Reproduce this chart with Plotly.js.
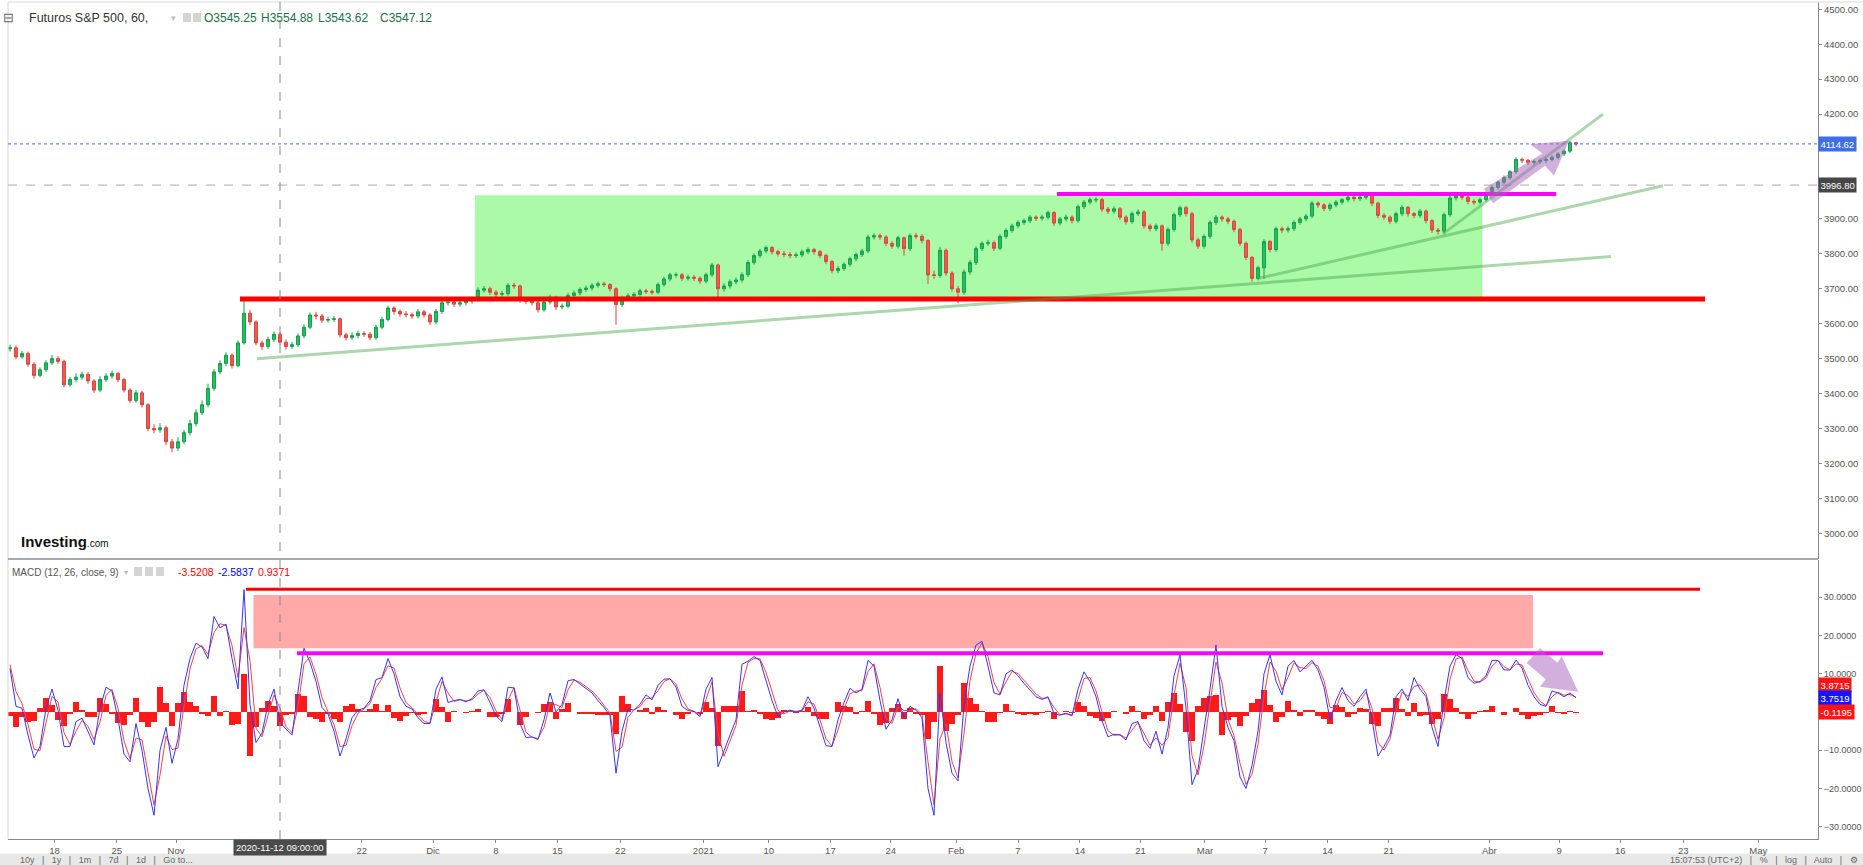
<!DOCTYPE html>
<html><head><meta charset="utf-8">
<script src="https://cdn.plot.ly/plotly-3.0.1.min.js"></script>
<style>html,body{margin:0;padding:0;background:#fff;}#chart{width:1863px;height:865px;}</style>
</head><body><div id="chart"></div>
<script>
// ---------- DATA (one sample ~ every 11 hourly bars) ----------
const priceOpen = [
3528,3531,3505,3515,3484,3452,3468,3488,3500,3492,
3425,3440,3447,3455,3436,3410,3440,3450,3458,3440,
3410,3380,3402,3368,3300,3296,3302,3262,3244,3262,
3288,3314,3345,3368,3415,3462,3486,3510,3480,3545,
3630,3605,3545,3535,3555,3570,3547,3535,3540,3565,
3590,3625,3622,3610,3612,3614,3568,3560,3566,3572,
3570,3560,3590,3612,3645,3635,3628,3626,3622,3634,
3625,3605,3635,3660,3662,3656,3660,3665,3670,3696,
3700,3690,3684,3686,3710,3708,3668,3664,3660,3640,
3662,3676,3648,3650,3681,3688,3698,3702,3710,3714,
3712,3700,3655,3675,3680,3684,3694,3692,3690,3712,
3728,3740,3740,3730,3733,3730,3722,3740,3768,3700,
3708,3720,3725,3740,3775,3795,3808,3818,3806,3800,
3798,3795,3797,3806,3812,3806,3795,3778,3752,3758,
3770,3786,3798,3808,3848,3852,3848,3830,3822,3846,
3815,3852,3850,3838,3740,3738,3810,3745,3700,3690,
3748,3775,3815,3830,3832,3816,3850,3867,3880,3890,
3895,3905,3902,3905,3918,3888,3900,3905,3895,3935,
3948,3955,3955,3928,3922,3929,3905,3892,3915,3920,
3880,3872,3880,3830,3870,3912,3932,3915,3840,3822,
3850,3890,3905,3900,3893,3870,3830,3790,3730,3760,
3835,3812,3872,3868,3872,3890,3900,3908,3945,3940,
3930,3940,3948,3955,3962,3958,3962,3967,3945,3910,
3905,3893,3915,3933,3915,3910,3922,3895,3868,3865,
3912,3960,3965,3962,3950,3948,3955,3972,3990,4005,
4018,4035,4070,4068,4062,4064,4067,4070,4076,4086,
4094,4118];
const priceHigh = [
3540,3538,3522,3520,3490,3475,3495,3510,3508,3497,
3448,3458,3463,3462,3441,3450,3458,3466,3462,3445,
3415,3410,3408,3372,3312,3315,3308,3270,3275,3296,
3325,3355,3380,3428,3470,3495,3518,3515,3552,3667,
3640,3610,3552,3563,3578,3576,3555,3548,3572,3598,
3632,3634,3628,3620,3622,3618,3574,3575,3580,3578,
3576,3597,3620,3652,3650,3641,3636,3632,3642,3640,
3630,3642,3666,3670,3668,3667,3672,3678,3704,3708,
3706,3696,3694,3716,3717,3712,3675,3670,3666,3668,
3683,3680,3658,3687,3695,3704,3709,3716,3721,3720,
3716,3704,3680,3687,3690,3700,3700,3698,3718,3734,
3746,3747,3745,3740,3739,3736,3746,3774,3772,3716,
3727,3732,3747,3782,3801,3814,3824,3822,3812,3808,
3805,3804,3812,3818,3817,3811,3800,3782,3765,3776,
3792,3804,3815,3855,3859,3858,3853,3836,3852,3850,
3858,3860,3856,3842,3752,3820,3815,3750,3708,3755,
3782,3822,3836,3840,3838,3856,3873,3886,3896,3901,
3911,3910,3912,3924,3922,3906,3912,3910,3941,3954,
3961,3962,3960,3934,3936,3934,3910,3921,3927,3925,
3886,3887,3884,3876,3918,3938,3937,3920,3846,3856,
3896,3911,3910,3906,3898,3874,3835,3794,3766,3842,
3840,3878,3878,3879,3896,3906,3914,3951,3950,3945,
3946,3954,3960,3968,3967,3968,3975,3972,3949,3916,
3910,3921,3939,3937,3920,3928,3927,3899,3874,3918,
3966,3972,3970,3966,3956,3961,3978,3995,4010,4024,
4040,4076,4075,4072,4070,4073,4076,4082,4091,4099,
4123,4121];
const priceLow = [
3520,3498,3500,3477,3442,3446,3462,3482,3485,3418,
3420,3432,3440,3428,3402,3404,3433,3443,3432,3403,
3372,3374,3360,3292,3286,3288,3252,3232,3236,3255,
3280,3306,3338,3360,3408,3455,3478,3472,3475,3540,
3596,3538,3525,3528,3548,3540,3526,3528,3534,3558,
3584,3612,3602,3603,3605,3560,3552,3554,3558,3562,
3552,3554,3584,3606,3626,3620,3618,3614,3615,3617,
3596,3598,3628,3652,3648,3649,3652,3657,3664,3689,
3682,3676,3677,3680,3700,3660,3656,3652,3632,3634,
3655,3640,3641,3644,3674,3681,3691,3695,3703,3705,
3692,3597,3648,3668,3673,3677,3685,3683,3684,3706,
3721,3732,3722,3723,3722,3714,3716,3734,3665,3692,
3701,3713,3718,3734,3769,3788,3801,3798,3792,3790,
3787,3788,3790,3799,3798,3787,3770,3744,3745,3751,
3763,3779,3791,3802,3841,3840,3822,3814,3815,3795,
3808,3842,3830,3714,3728,3731,3737,3692,3658,3683,
3740,3768,3808,3823,3808,3810,3843,3860,3873,3883,
3888,3894,3895,3898,3880,3881,3893,3887,3889,3928,
3941,3947,3920,3914,3915,3897,3884,3886,3908,3872,
3864,3865,3809,3823,3863,3905,3907,3832,3814,3815,
3843,3883,3892,3885,3862,3822,3782,3720,3724,3728,
3804,3806,3860,3861,3865,3883,3893,3902,3932,3922,
3923,3933,3941,3948,3950,3951,3955,3937,3902,3897,
3885,3887,3908,3907,3902,3903,3887,3860,3855,3858,
3906,3953,3955,3942,3940,3942,3949,3966,3984,3999,
4012,4030,4060,4054,4055,4057,4060,4064,4070,4080,
4089,4108];
const priceClose = [
3531,3505,3515,3484,3452,3468,3488,3500,3492,3425,
3440,3447,3455,3436,3410,3440,3450,3458,3440,3410,
3380,3402,3368,3300,3296,3302,3262,3244,3262,3288,
3314,3345,3368,3415,3462,3486,3510,3480,3545,3630,
3605,3545,3535,3555,3570,3547,3535,3540,3565,3590,
3625,3622,3610,3612,3614,3568,3560,3566,3572,3570,
3560,3590,3612,3645,3635,3628,3626,3622,3634,3625,
3605,3635,3660,3662,3656,3660,3665,3670,3696,3700,
3690,3684,3686,3710,3708,3668,3664,3660,3640,3662,
3676,3648,3650,3681,3688,3698,3702,3710,3714,3712,
3700,3655,3675,3680,3684,3694,3692,3690,3712,3728,
3740,3740,3730,3733,3730,3722,3740,3768,3700,3708,
3720,3725,3740,3775,3795,3808,3818,3806,3800,3798,
3795,3797,3806,3812,3806,3795,3778,3752,3758,3770,
3786,3798,3808,3848,3852,3848,3830,3822,3846,3815,
3852,3850,3838,3740,3738,3810,3745,3700,3690,3748,
3775,3815,3830,3832,3816,3850,3867,3880,3890,3895,
3905,3902,3905,3918,3888,3900,3905,3895,3935,3948,
3955,3955,3928,3922,3929,3905,3892,3915,3920,3880,
3872,3880,3830,3870,3912,3932,3915,3840,3822,3850,
3890,3905,3900,3893,3870,3830,3790,3730,3760,3835,
3812,3872,3868,3872,3890,3900,3908,3945,3940,3930,
3940,3948,3955,3962,3958,3962,3967,3945,3910,3905,
3893,3915,3933,3915,3910,3922,3895,3868,3865,3912,
3960,3965,3962,3950,3948,3955,3972,3990,4005,4018,
4035,4070,4068,4062,4064,4067,4070,4076,4086,4094,
4118,4114.62];

const macdLine = [
11.4,1.5,1.0,-6,-12,-9,1,6,0.5,-9,
-9,-2.5,-1.6,-5,-8.6,1,6.5,5.5,-1.8,-11,
-13,-3,-10,-20,-27,-10,-4,-13.4,-7,7,
14,18,17,14,25,22,23,14,6,32,
2,-8,-5.5,2,6,-2.5837,-4.5,-6,6,16.7,
13,8,1.2,-0.5,-5,-11.5,-7,-1.5,0.5,1,
3,8.5,9,14,10,4,1.5,0.8,-1.5,-3,
-3,6,9.2,2.5,3,3.3,2.7,3.5,5.5,5.8,
2.5,-1,-2.5,6.5,6.3,-3,-6.7,-6.5,-7.2,-2,
5,0,2,8.2,8.5,7.4,6.3,5,3,1.2,
-1,-16,-5,0.8,0.5,2,4.5,3.2,7,8.6,
8.7,6.5,1.5,0.4,0.1,-1.2,6,9,-14.3,-10,
-6,-2,12.5,13.3,14.5,13.5,8.5,3,-1.2,0,
0.5,0,0.5,4,1,-4,-8.8,-9,-2,2.5,
6.2,5,6,13.5,12,3,-4.5,-2,3.5,-1.5,
1.5,0.5,-1.5,-20,-27,5,-8,-16,-18,2,
12,17.5,18.5,12,5,4.5,10,11,9.5,7.5,
5.8,4,3.3,4,-0.5,-0.8,-0.3,-1,6,10.5,
8,4,-2.3,-6.5,-5.8,-6,-7.3,-3,-2.5,-7.5,
-9.5,-5,-11,-4,9.5,14.9,1,-19,-15,-5,
6,17.5,1.5,-4,-7.5,-17,-20,-14,-5,10,
15,8,4.5,12,13.5,10.5,12,13.5,11,6.5,
-2,3,6.4,3,1.5,4,6,-2,-11.5,-9,
-6,4,6,3,9,6,4,-4,-9,3,
12,15,14,9,7.5,8,9.5,13.5,13.5,11,
11,13.6,11.5,7,4,2,1.5,5.5,5,4,
5,3.7519];
const signalLine = [
12.4,5.3,2.2,-3.3,-9.7,-10.1,-2.8,4.1,2.6,-5.4,
-8.5,-5,-2.2,-3.7,-7.2,-2.6,4.4,5.9,1,-7.5,
-12.2,-6.8,-7.3,-16.2,-24.3,-16.5,-6.3,-9.8,-9.4,1.7,
11.3,16.5,17.4,15.1,20.8,23.1,22.6,17.4,9,22.1,
13.4,-4.2,-6.5,-0.9,4.5,0.9371,-3.8,-5.4,1.4,12.6,
14.4,9.9,3.8,0.1,-3.3,-9,-8.7,-3.6,-0.3,0.8,
2.2,6.4,8.8,12.1,11.5,6.3,2.5,1.1,-0.6,-2.4,
-2.9,2.6,8,5,2.8,3.2,2.9,3.2,4.7,5.7,
3.8,0.3,-1.9,3.1,6.4,0.5,-5.3,-6.6,-6.9,-4,
2.3,1.9,1.2,5.8,8.4,7.8,6.7,5.5,3.8,1.9,
-0.2,-10.3,-9.2,-1.4,0.6,1.4,3.5,3.7,5.6,8,
8.7,7.3,3.4,0.8,0.2,-0.7,3.3,7.9,-5.4,-11.6,
-7.5,-3.5,7,13,14,13.9,10.4,5.1,0.4,-0.5,
0.3,0.2,0.3,2.7,2.1,-2.1,-7,-8.9,-4.7,0.8,
4.8,5.5,5.6,10.6,12.6,6.4,-1.6,-3,1.4,0.4,
0.4,0.9,-0.7,-13,-24.3,-7,-3.1,-13,-17.2,-5.6,
8.2,15.4,18.1,14.5,7.7,4.7,7.9,10.6,10.1,8.3,
6.4,4.7,3.6,3.7,1.2,-0.7,-0.5,-0.7,3.3,8.8,
9,5.5,0.1,-4.9,-6.1,-5.9,-6.8,-4.6,-2.7,-5.6,
-8.7,-6.7,-8.7,-6.7,4.4,12.8,6.3,-11.4,-16.5,-8.8,
1.8,13.1,7.6,-1.9,-6.2,-13.4,-18.9,-16.3,-8.4,4.3,
13.1,10.7,5.8,9.1,12.9,11.6,11.4,12.9,12,8.2,
1.2,1.1,5.1,4.3,2.1,3,5.2,1,-7.9,-10,
-7.1,0.2,5.2,4.1,6.7,7.1,4.8,-1,-7.1,-1.6,
8.6,13.9,14.4,10.9,8.1,7.8,8.9,12,13.5,11.9,
11,12.6,12.3,8.7,5.1,2.8,1.7,4,5.2,4.4,
4.6,3.8715];
const histogram = [
-1.0,-3.8,-1.2,-2.7,-2.3,1.1,3.8,1.9,-2.1,-3.6,
-0.5,2.5,0.6,-1.3,-1.4,3.6,2.1,-0.4,-2.8,-3.5,
-0.8,3.8,-2.7,-3.8,-2.7,6.5,2.3,-3.6,2.4,5.3,
2.7,1.5,-0.4,-1.1,4.2,-1.1,0.4,-3.4,-3,9.9,
-11.4,-3.8,1,2.9,1.5,-3.5208,-0.7,-0.6,4.6,4.1,
-1.4,-1.9,-2.6,-0.6,-1.7,-2.5,1.7,2.1,0.8,0.2,
0.8,2.1,0.2,1.9,-1.5,-2.3,-1,-0.3,-0.9,-0.6,
-0.1,3.4,1.2,-2.5,0.2,0.1,-0.2,0.3,0.8,0.1,
-1.3,-1.3,-0.6,3.4,-0.1,-3.5,-1.4,0.1,-0.3,2,
2.7,-1.9,0.8,2.4,0.1,-0.4,-0.4,-0.5,-0.8,-0.7,
-0.8,-5.7,4.2,2.2,-0.1,0.6,1,-0.5,1.4,0.6,
0,-0.8,-1.9,-0.4,-0.1,-0.5,2.7,1.1,-8.9,1.6,
1.5,1.5,5.5,0.3,0.5,-0.4,-1.9,-2.1,-1.6,0.5,
0.2,-0.2,0.2,1.3,-1.1,-1.9,-1.8,-0.1,2.7,1.7,
1.4,-0.5,0.4,2.9,-0.6,-3.4,-2.9,1,2.1,-1.9,
1.1,-0.4,-0.8,-7,-2.7,12,-4.9,-3,-0.8,7.6,
3.8,2.1,0.4,-2.5,-2.7,-0.2,2.1,0.4,-0.6,-0.8,
-0.6,-0.7,-0.3,0.3,-1.7,-0.1,0.2,-0.3,2.7,1.7,
-1,-1.5,-2.4,-1.6,0.3,-0.1,-0.5,1.6,0.2,-1.9,
-0.8,1.7,-2.3,2.7,5.1,2.1,-5.3,-7.6,1.5,3.8,
4.2,4.4,-6.1,-2.1,-1.3,-3.6,-1.1,2.3,3.4,5.7,
1.9,-2.7,-1.3,2.9,0.6,-1.1,0.6,0.6,-1,-1.7,
-3.2,1.9,1.3,-1.3,-0.6,1,0.8,-3,-3.6,1,
1.1,3.8,0.8,-1.1,2.3,-1.1,-0.8,-3,-1.9,4.6,
3.4,1.1,-0.4,-1.9,-0.6,0.2,0.6,1.5,0,-0.9,
0,1,-0.8,-1.7,-1.1,-0.8,-0.2,1.5,-0.2,-0.4,
0.4,-0.1195];

// x-axis tick labels, placed at bar positions
const xTickPos = [7.43,17.8,27.67,58.63,70.5,80.97,91.25,101.73,115.57,126.45,136.73,146.8,157.7,168,178.33,188.43,199.15,209.17,219.58,229.8,246.55,258.17,268.37,278.88,291.38];
const xTickText = ['18','25','Nov','22','Dic','8','15','22','2021','10','17','24','Feb','7','14','21','Mar','7','14','21','Abr','9','16','23','May'];
const priceTicks = [3000,3100,3200,3300,3400,3500,3600,3700,3800,3900,4200,4300,4400,4500];
const macdTicks = [-30,-20,-10,10,20,30];

// drawn annotations (bar position, value)
const lastPrice = 4114.62, markPrice = 3996.80;
const crosshairBar = 45, crosshairLabel = '2020-11-12 09:00:00';
const supportLevel = 3671, supportSpan = [38.33, 282.5];
const resistLevel = 3971, resistSpan = [174.5, 257.7];
const rangeBox = [77.5, 245.4, 3674, 3968];
const trendLines = [[41.17,3500,266.83,3792],[208.17,3730,275.5,3995],[238.83,3857,265.5,4200]];
const upArrowX = [245.67,255.42,253.33,259.83,257.33,255.83,247.17];
const upArrowP = [3986,4087,4114,4124,4024,4052,3945];
const macdTopLevel = 32.1, macdTopSpan = [39.33, 281.67];
const macdBox = [40.58, 253.83, 16.7, 30.6];
const macdResist = 15.4, macdResistSpan = [47.83, 265.5];
const downArrowX = [255,257.9,258.62,261.38,255,255.93,252.78];
const downArrowV = [16.7,12.9,14.5,5.3,6.6,8.6,12.8];
const ohlcHeader = ['O3545.25','H3554.88','L3543.62','C3547.12'];
const macdHeader = ['-3.5208','-2.5837','0.9371'];
const macdBadges = [['3.8715',7.06,'#ff1414'],['3.7519',3.75,'#1414ff'],['-0.1195',-0.12,'#ff1414']];

// ---------- LAYOUT ----------
const W = 1863, H = 865, ML = 8, MR = 45, MT = 0, MB = 26;
const PW = W - ML - MR, PH = H - MT - MB;
const px = X => (X - ML) / PW;
const py = Y => (PH - Y) / PH;
const UI = '"Liberation Sans", Arial, sans-serif';
const idx = priceClose.map((_, i) => i);

const traces = [
  {type:'candlestick', x:idx, open:priceOpen, high:priceHigh, low:priceLow, close:priceClose,
   xaxis:'x', yaxis:'y', hoverinfo:'skip', whiskerwidth:0,
   increasing:{line:{color:'#17a04c', width:1}, fillcolor:'#22c25e'},
   decreasing:{line:{color:'#d9463e', width:1}, fillcolor:'#ee5b52'}},
  {type:'bar', x:idx, y:histogram, xaxis:'x', yaxis:'y2', width:1,
   marker:{color:'#ff1a1a', line:{width:0}}, hoverinfo:'skip'},
  {type:'scatter', mode:'lines', x:idx, y:signalLine, xaxis:'x', yaxis:'y2',
   line:{color:'#ff4040', width:1}, hoverinfo:'skip'},
  {type:'scatter', mode:'lines', x:idx, y:macdLine, xaxis:'x', yaxis:'y2',
   line:{color:'#3535ff', width:1}, hoverinfo:'skip'}
];

const shapes = [];
// bottom toolbar strip (under the axis labels)
shapes.push({type:'rect', xref:'paper', yref:'paper', x0:px(0), x1:px(1863), y0:py(853.5), y1:py(866), fillcolor:'#e8e8e8', line:{width:0}, layer:'below'});
// panel frame
shapes.push({type:'line', xref:'paper', yref:'paper', x0:0, x1:1.0249, y0:py(2), y1:py(2), line:{color:'#d8d8d8', width:1}});
shapes.push({type:'line', xref:'paper', yref:'paper', x0:0, x1:0, y0:0, y1:py(2), line:{color:'#d8d8d8', width:1}});
shapes.push({type:'line', xref:'paper', yref:'paper', x0:0, x1:1, y0:py(559), y1:py(559), line:{color:'#555', width:1}});
// range box
shapes.push({type:'rect', xref:'x', yref:'y', x0:rangeBox[0], x1:rangeBox[1], y0:rangeBox[2], y1:rangeBox[3],
  fillcolor:'#abfaa7', line:{width:0}, layer:'below'});
// MACD pink box
shapes.push({type:'rect', xref:'x', yref:'y2', x0:macdBox[0], x1:macdBox[1], y0:macdBox[2], y1:macdBox[3],
  fillcolor:'#ffa9a9', line:{width:0}, layer:'below'});
// dashed reference lines
shapes.push({type:'line', xref:'paper', yref:'y', x0:0, x1:1, y0:markPrice, y1:markPrice, line:{color:'#aaaaaa', width:1, dash:'dash'}});
shapes.push({type:'line', xref:'paper', yref:'y', x0:0, x1:1, y0:lastPrice, y1:lastPrice, line:{color:'#4a6fe0', width:1, dash:'dot'}});
// support / resistance
shapes.push({type:'line', xref:'x', yref:'y', x0:supportSpan[0], x1:supportSpan[1], y0:supportLevel, y1:supportLevel, line:{color:'#ff0000', width:5}});
shapes.push({type:'line', xref:'x', yref:'y', x0:resistSpan[0], x1:resistSpan[1], y0:resistLevel, y1:resistLevel, line:{color:'#ff00ff', width:4}});
// trend lines
trendLines.forEach(t => shapes.push({type:'line', xref:'x', yref:'y', x0:t[0], y0:t[1], x1:t[2], y1:t[3],
  line:{color:'rgba(70,165,70,0.45)', width:3}}));
// arrows
const pathOf = (xs, ys) => 'M ' + xs.map((x, i) => x + ',' + ys[i]).join(' L ') + ' Z';
shapes.push({type:'path', xref:'x', yref:'y', path:pathOf(upArrowX, upArrowP), fillcolor:'rgba(165,95,185,0.5)', line:{width:0}});
// MACD lines
shapes.push({type:'line', xref:'x', yref:'y2', x0:macdTopSpan[0], x1:macdTopSpan[1], y0:macdTopLevel, y1:macdTopLevel, line:{color:'#ff0000', width:3}});
shapes.push({type:'line', xref:'x', yref:'y2', x0:macdResistSpan[0], x1:macdResistSpan[1], y0:macdResist, y1:macdResist, line:{color:'#ff00ff', width:4}});
shapes.push({type:'path', xref:'x', yref:'y2', path:pathOf(downArrowX, downArrowV), fillcolor:'rgba(165,95,185,0.5)', line:{width:0}});
// crosshair
shapes.push({type:'line', xref:'x', yref:'paper', x0:crosshairBar, x1:crosshairBar, y0:0, y1:1, line:{color:'#888', width:1, dash:'dash'}});
// small header icons
[[183,191,13,22],[193,201,13,22],[134,142,567,576],[145,153,567,576],[156,164,567,576]].forEach(r =>
  shapes.push({type:'rect', xref:'paper', yref:'paper', x0:px(r[0]), x1:px(r[1]), y0:py(r[3]), y1:py(r[2]), fillcolor:'#d4d4d4', line:{width:0}}));

const ann = [];
const T = (text, X, Y, font, extra) => ann.push(Object.assign({xref:'paper', yref:'paper', x:px(X), y:py(Y), text:text,
  showarrow:false, xanchor:'left', yanchor:'middle', font:font}, extra || {}));
// header
T('⊟', 1, 18, {family:UI, size:13, color:'#666'});
T('Futuros S&P 500, 60,', 27, 18, {family:UI, size:12.5, color:'#333'});
T('▾', 169, 18, {family:UI, size:9, color:'#bbb'});
const ohlcX = [202, 259, 316, 378];
ohlcHeader.forEach((t, i) => T(t, ohlcX[i], 18, {family:UI, size:12, color:'#23704a'}));
// MACD header
T('MACD (12, 26, close, 9)', 10, 572, {family:UI, size:10, color:'#555'});
T('▾', 122, 572, {family:UI, size:8, color:'#bbb'});
const mhX = [176, 216, 256], mhC = ['#ff0000', '#0000ff', '#ff0000'];
macdHeader.forEach((t, i) => T(t, mhX[i], 572, {family:UI, size:10.5, color:mhC[i]}));
// logo
T('<b>Investing</b><span style="font-size:10px">.com</span>', 19, 541, {family:UI, size:15, color:'#111'});
// toolbar texts
T('10y   |   1y   |   1m   |   7d   |   1d   |   Go to...', 18, 860, {family:UI, size:9, color:'#666'});
T('15:07:53 (UTC+2)   |   %   |   log   |   Auto   |   ⚙', 1860, 860, {family:UI, size:9, color:'#666'}, {xanchor:'right'});
// crosshair date label
ann.push({xref:'x', yref:'paper', x:crosshairBar, y:py(847), text:crosshairLabel, showarrow:false, xanchor:'center', yanchor:'middle',
  bgcolor:'#4b4b4b', borderpad:2, font:{family:UI, size:9.5, color:'#fff'}});
// price badges
ann.push({xref:'paper', yref:'y', x:1, y:lastPrice, text:lastPrice.toFixed(2), showarrow:false, xanchor:'left', yanchor:'middle',
  bgcolor:'#3e6fe6', borderpad:1.5, font:{family:UI, size:9.5, color:'#fff'}});
ann.push({xref:'paper', yref:'y', x:1, y:markPrice, text:markPrice.toFixed(2), showarrow:false, xanchor:'left', yanchor:'middle',
  bgcolor:'#474747', borderpad:1.5, font:{family:UI, size:9.5, color:'#fff'}});
macdBadges.forEach(b => ann.push({xref:'paper', yref:'y2', x:1, y:b[1], text:b[0], showarrow:false, xanchor:'left', yanchor:'middle',
  bgcolor:b[2], borderpad:1.5, font:{family:UI, size:9.5, color:'#fff'}}));

const axisCommon = {showgrid:false, zeroline:false, showline:true, linecolor:'#8a8a8a', linewidth:1,
  ticks:'outside', ticklen:3, tickcolor:'#8a8a8a', tickfont:{family:UI, size:9.5, color:'#555'}, fixedrange:true};

const layout = {
  width:W, height:H, margin:{l:ML, r:MR, t:MT, b:MB, pad:0},
  paper_bgcolor:'#fff', plot_bgcolor:'#fff', showlegend:false, hovermode:false, dragmode:false,
  xaxis:Object.assign({}, axisCommon, {anchor:'y2', range:[(ML - 10) / 6, (W - MR - 10) / 6],
    tickmode:'array', tickvals:xTickPos, ticktext:xTickText, rangeslider:{visible:false}}),
  yaxis:Object.assign({}, axisCommon, {domain:[py(559), py(2)], side:'right', anchor:'x',
    range:[2926.4, 4520.9], tickmode:'array', tickvals:priceTicks, tickformat:'.2f'}),
  yaxis2:Object.assign({}, axisCommon, {domain:[0, py(560)], side:'right', anchor:'x',
    range:[-33.2, 39.76], tickmode:'array', tickvals:macdTicks, tickformat:'.4f',
    tickfont:{family:UI, size:9, color:'#555'}}),
  shapes:shapes, annotations:ann, bargap:0
};

Plotly.newPlot('chart', traces, layout, {displayModeBar:false, staticPlot:true});
</script>
</body></html>
